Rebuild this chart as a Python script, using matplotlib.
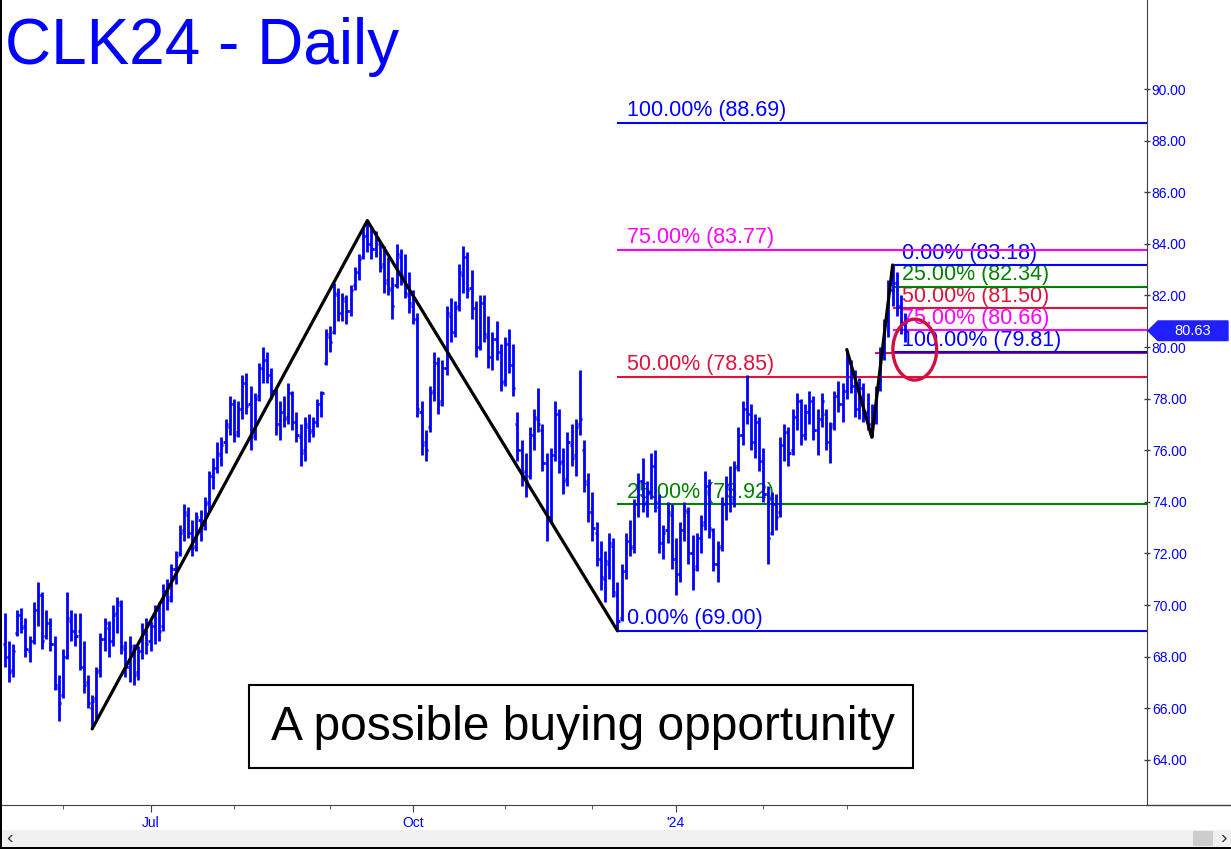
import matplotlib
matplotlib.use('Agg')
import matplotlib.pyplot as plt
import matplotlib.patches as patches
import matplotlib.transforms as transforms
from matplotlib.collections import LineCollection
import numpy as np
import pandas as pd

plt.rcParams['font.family'] = ['Liberation Sans', 'DejaVu Sans']

# trading calendar of the chart
first_day = '2023-05-11'
holidays = ['2023-05-29', '2023-06-19', '2023-07-04', '2023-09-04', '2023-11-23',
            '2023-12-25', '2024-01-01', '2024-01-15', '2024-02-19']

# daily OHLC bars
opens = [68.5, 68.0, 67.5, 68.9, 69.6, 69.2, 68.2, 68.6, 69.8, 70.4,
         68.8, 69.3, 68.5, 66.8, 66.5, 68.0, 69.4, 69.0, 69.0, 67.6,
         67.0, 66.0, 66.4, 67.5, 68.7, 69.1, 68.6, 69.7, 70.0, 68.3,
         67.6, 68.3, 67.4, 68.2, 69.0, 68.6, 69.2, 69.8, 69.2, 70.5,
         70.3, 71.4, 72.0, 72.9, 73.5, 72.8, 72.3, 73.3, 73.1, 74.0,
         75.0, 75.3, 75.8, 76.3, 76.9, 77.8, 76.7, 77.6, 78.6, 77.8,
         76.6, 78.1, 79.2, 79.5, 78.9, 78.2, 77.0, 77.5, 77.3, 78.2,
         77.1, 76.5, 76.0, 76.9, 76.8, 77.1, 77.8, 79.4, 80.4, 80.6,
         82.0, 81.3, 81.8, 81.4, 82.4, 82.9, 83.5, 84.3, 84.0, 83.8,
         84.0, 83.2, 82.6, 82.2, 82.4, 83.5, 82.7, 82.0, 81.6, 81.1,
         77.5, 76.3, 76.9, 78.3, 79.4, 77.9, 79.2, 81.2, 80.6, 81.6,
         82.8, 83.5, 82.3, 81.5, 80.0, 81.7, 80.4, 79.6, 80.3, 79.8,
         78.7, 80.1, 79.3, 77.0, 76.0, 75.2, 75.0, 76.6, 77.2, 76.8,
         75.5, 73.4, 75.8, 77.4, 75.6, 74.9, 76.2, 75.8, 77.0, 76.0,
         74.7, 73.6, 72.8, 71.8, 71.0, 71.6, 72.3, 70.4, 69.5, 71.3,
         72.5, 72.3, 73.9, 74.8, 74.0, 74.4, 75.4, 73.8, 72.4, 72.9,
         73.5, 71.8, 71.2, 72.9, 73.6, 72.0, 71.5, 72.6, 73.2, 74.6,
         72.9, 71.6, 72.3, 73.9, 74.5, 74.1, 75.4, 76.6, 77.6, 77.4,
         76.3, 77.1, 75.6, 74.3, 72.8, 73.9, 73.6, 76.2, 76.7, 76.0,
         77.3, 77.9, 76.6, 77.5, 77.9, 76.8, 77.2, 77.4, 76.3, 77.0,
         78.1, 77.8, 78.3, 79.4, 78.5, 77.6, 78.4, 77.5, 77.0, 77.4,
         78.4, 79.8, 81.0, 82.2, 82.5, 81.6, 80.9]
highs = [69.7, 68.6, 68.5, 69.8, 69.9, 69.5, 68.8, 70.1, 70.9, 70.5,
         69.8, 69.5, 68.8, 67.3, 68.3, 70.5, 69.8, 69.7, 69.7, 68.6,
         67.3, 66.5, 67.6, 68.9, 69.5, 69.4, 70.0, 70.3, 70.2, 68.6,
         68.8, 68.5, 68.4, 69.3, 69.5, 69.4, 70.0, 70.1, 70.8, 71.0,
         71.6, 72.1, 73.1, 73.9, 73.8, 73.3, 73.6, 73.7, 74.2, 75.2,
         75.7, 76.3, 76.5, 77.2, 78.1, 78.0, 77.9, 78.9, 79.0, 78.5,
         78.2, 79.4, 80.0, 79.8, 79.2, 78.4, 77.9, 78.1, 78.6, 78.3,
         77.5, 77.0, 77.3, 77.4, 77.3, 78.0, 78.3, 80.7, 80.8, 82.5,
         82.3, 82.1, 82.0, 82.4, 83.1, 83.6, 84.6, 84.9, 84.7, 84.5,
         84.1, 83.9, 83.5, 82.7, 84.0, 83.8, 83.6, 82.9, 82.2, 81.3,
         77.9, 76.8, 78.5, 79.8, 79.6, 79.5, 81.6, 81.9, 81.8, 83.2,
         83.9, 83.7, 83.0, 81.8, 82.0, 82.0, 81.2, 80.6, 81.0, 80.1,
         80.4, 80.7, 80.1, 77.5, 76.4, 75.9, 76.9, 77.6, 78.4, 77.0,
         75.9, 76.1, 77.9, 77.6, 76.1, 76.7, 77.0, 77.2, 79.1, 76.4,
         75.1, 74.4, 73.2, 72.5, 72.1, 72.8, 72.6, 70.9, 71.6, 72.8,
         73.3, 74.1, 75.1, 75.7, 74.8, 75.9, 76.0, 74.3, 73.1, 74.0,
         73.9, 72.6, 73.2, 74.0, 73.8, 72.7, 72.8, 73.5, 75.2, 74.9,
         73.0, 72.5, 74.2, 75.0, 75.4, 75.6, 76.9, 77.9, 78.9, 77.8,
         77.4, 77.3, 76.1, 74.6, 74.4, 74.3, 76.5, 77.0, 76.9, 77.6,
         78.2, 78.0, 77.8, 78.3, 78.1, 77.6, 78.2, 77.6, 77.1, 78.3,
         78.7, 78.6, 79.9, 79.5, 79.1, 78.8, 78.6, 78.2, 77.8, 78.5,
         80.0, 81.1, 82.6, 83.18, 82.9, 82.0, 81.3]
lows = [67.6, 67.0, 67.2, 68.8, 68.9, 68.0, 67.8, 68.5, 69.2, 68.3,
        68.7, 68.2, 66.7, 65.5, 66.4, 67.9, 68.6, 68.4, 67.5, 66.6,
        66.0, 65.2, 65.6, 67.2, 68.2, 68.0, 68.4, 68.9, 68.1, 67.2,
        67.0, 66.9, 67.1, 67.9, 68.1, 68.2, 68.5, 68.6, 69.0, 69.8,
        70.1, 70.8, 71.9, 72.5, 72.6, 71.9, 72.1, 72.5, 72.9, 73.6,
        74.5, 75.1, 75.4, 75.9, 76.6, 76.3, 76.5, 77.2, 77.4, 76.0,
        76.4, 77.9, 78.6, 78.6, 78.0, 76.6, 76.4, 76.9, 77.0, 76.8,
        76.3, 75.4, 75.6, 76.3, 76.5, 76.9, 77.3, 79.3, 79.8, 80.5,
        81.0, 81.0, 80.9, 81.2, 82.2, 82.6, 83.4, 83.7, 83.4, 83.5,
        82.9, 82.1, 82.0, 81.1, 82.3, 82.4, 81.9, 81.3, 80.9, 77.3,
        75.8, 75.6, 76.7, 77.9, 77.4, 77.7, 78.9, 80.2, 80.4, 81.4,
        82.1, 81.9, 81.1, 79.6, 79.9, 80.2, 79.2, 79.1, 79.5, 78.3,
        78.5, 79.0, 78.1, 75.6, 74.6, 74.2, 74.9, 76.0, 76.7, 75.2,
        72.5, 73.2, 75.6, 75.1, 74.3, 74.6, 75.4, 75.0, 76.6, 74.4,
        73.2, 72.5, 71.5, 70.6, 70.1, 71.0, 70.3, 69.0, 69.4, 71.0,
        71.9, 72.0, 73.4, 73.6, 73.4, 74.1, 73.6, 72.0, 71.8, 72.4,
        71.4, 70.4, 70.9, 72.5, 71.6, 70.6, 71.3, 72.0, 72.9, 72.6,
        71.3, 70.9, 72.1, 73.3, 73.6, 73.8, 75.2, 76.2, 77.0, 76.0,
        75.7, 75.2, 74.0, 71.6, 72.7, 72.9, 73.4, 75.6, 75.4, 75.8,
        76.8, 76.2, 76.4, 77.0, 76.4, 75.8, 76.9, 76.0, 75.5, 76.8,
        77.5, 77.1, 78.0, 78.2, 77.3, 77.2, 77.1, 76.8, 76.5, 77.0,
        78.3, 79.5, 80.4, 81.6, 81.2, 80.5, 80.2]
closes = [68.0, 67.4, 68.2, 69.6, 69.1, 68.3, 68.6, 69.8, 70.4, 68.6,
          69.3, 68.5, 66.9, 66.2, 68.0, 69.5, 69.0, 68.8, 67.6, 66.9,
          66.2, 66.3, 67.4, 68.7, 69.3, 68.6, 69.6, 70.1, 68.4, 67.6,
          68.4, 67.3, 68.2, 69.0, 68.5, 69.2, 69.8, 69.0, 70.5, 70.2,
          71.4, 71.9, 72.8, 73.6, 72.8, 72.2, 73.4, 73.0, 73.9, 75.0,
          75.3, 75.9, 76.2, 77.0, 77.8, 76.6, 77.6, 78.6, 77.7, 76.5,
          78.0, 79.2, 79.5, 78.9, 78.3, 77.0, 77.5, 77.2, 78.2, 77.1,
          76.6, 75.9, 77.0, 76.7, 77.1, 77.8, 78.2, 80.5, 80.2, 82.1,
          81.3, 81.9, 81.4, 82.2, 82.9, 83.4, 84.3, 84.0, 83.8, 84.2,
          83.1, 82.5, 82.3, 81.6, 83.6, 82.8, 82.1, 81.7, 81.1, 77.6,
          76.2, 76.0, 78.2, 79.4, 77.8, 79.2, 81.3, 80.6, 81.5, 82.9,
          83.5, 82.2, 81.5, 80.0, 81.7, 80.5, 79.6, 80.3, 79.8, 78.6,
          80.1, 79.3, 78.4, 76.0, 75.1, 74.8, 76.6, 77.3, 77.0, 75.5,
          73.4, 75.8, 77.4, 75.5, 74.8, 76.3, 75.7, 76.9, 77.2, 74.8,
          73.6, 73.0, 71.8, 71.1, 71.7, 72.4, 70.5, 69.4, 71.3, 72.5,
          72.2, 73.9, 74.8, 73.9, 74.4, 75.4, 74.0, 72.4, 72.8, 73.6,
          71.8, 71.2, 72.9, 73.7, 72.0, 71.4, 72.6, 73.1, 74.6, 73.0,
          71.6, 72.2, 73.9, 74.6, 74.0, 75.3, 76.6, 77.6, 77.4, 76.3,
          77.1, 75.6, 74.3, 72.6, 73.9, 73.4, 76.2, 76.7, 75.9, 77.3,
          77.9, 76.6, 77.5, 77.9, 76.8, 77.2, 77.9, 76.3, 76.9, 78.1,
          77.8, 78.3, 79.5, 78.5, 77.6, 78.4, 77.5, 77.0, 77.4, 78.3,
          79.7, 80.9, 82.2, 82.5, 81.6, 80.9, 80.63]

# Fibonacci projections
fib_pcts = ['0.00%', '25.00%', '50.00%', '75.00%', '100.00%']
big_levels = [69.00, 73.92, 78.85, 83.77, 88.69]
small_levels = [83.18, 82.34, 81.50, 80.66, 79.81]
fib_colors = ['#0000ff', '#008000', '#dc143c', '#ff00ff', '#0000ff']
old_level = 79.75

# swing pivots (bar index) for the zigzag lines
big_swing = [21, 87, 147]
small_swing = [202, 208, 213]

y_ticks = np.arange(64, 91, 2)

W, H = 1231, 849
def fx(px):
    return px / W
def fy(py):
    return 1 - py / H

fig = plt.figure(figsize=(W / 100, H / 100), dpi=100)
ax = fig.add_axes([0, fy(805), fx(1147), 805 / H])

n = len(closes)
dates = pd.bdate_range(first_day, periods=n, freq='C', holidays=holidays)
idx = np.arange(n)

# OHLC bars
segs = []
for i in idx:
    segs.append([(i, lows[i]), (i, highs[i])])
    segs.append([(i - 0.5, opens[i]), (i, opens[i])])
    segs.append([(i, closes[i]), (i + 0.5, closes[i])])
ax.add_collection(LineCollection(segs, colors='#0000ff', linewidths=2.0, zorder=3))

x_right = 274.0
ax.set_xlim(-1.1, x_right)
ax.set_ylim(62.25, 93.45)

# fib lines and labels
start_big = big_swing[-1]
start_small = small_swing[-1]
ax.hlines(old_level, 208.7, x_right, colors='#dc143c', lw=1.5, zorder=2)
for pct, lev, col in zip(fib_pcts, big_levels, fib_colors):
    ax.hlines(lev, start_big, x_right, colors=col, lw=1.5, zorder=2)
    ax.annotate(f'{pct} ({lev:.2f})', xy=(start_big, lev), xytext=(6.5, 1),
                textcoords='offset points', ha='left', va='bottom',
                fontsize=15.5, color=col, zorder=1)
for pct, lev, col in zip(fib_pcts, small_levels, fib_colors):
    ax.hlines(lev, start_small, x_right, colors=col, lw=1.5, zorder=2)
    ax.annotate(f'{pct} ({lev:.2f})', xy=(start_small, lev), xytext=(6.5, 1),
                textcoords='offset points', ha='left', va='bottom',
                fontsize=15.5, color=col, zorder=1)

# zigzags
bx = big_swing
by = [lows[bx[0]], highs[bx[1]], lows[bx[2]]]
ax.plot(bx, by, color='black', lw=2.3, zorder=4, solid_capstyle='round')
sx = small_swing
sy = [highs[sx[0]], lows[sx[1]], highs[sx[2]]]
ax.plot(sx, sy, color='black', lw=2.3, zorder=4, solid_capstyle='round')

# circle around the buy zone
ax.add_patch(patches.Ellipse((n + 1.3, 79.9), 10.5, 2.36, fill=False,
                             ec='#d01040', lw=2.4, zorder=6))

# axes styling
for s in ['left', 'top']:
    ax.spines[s].set_visible(False)
ax.spines['right'].set_color('#404040')
ax.spines['bottom'].set_color('#404040')
ax.yaxis.tick_right()
ax.set_yticks(y_ticks)
ax.set_yticklabels([f'{v:.2f}' for v in y_ticks])
ax.tick_params(axis='y', direction='inout', length=5, width=1, color='#404040',
               labelcolor='#0000ff', labelsize=10, pad=1)

month_pos = [i for i in range(1, n) if dates[i].month != dates[i - 1].month]
major = [i for i in month_pos if dates[i].month in (1, 4, 7, 10)]
minor = [i for i in month_pos if i not in major]
labels = ["'" + dates[i].strftime('%y') if dates[i].month == 1 else dates[i].strftime('%b')
          for i in major]
ax.set_xticks(major)
ax.set_xticklabels(labels)
ax.set_xticks(minor, minor=True)
ax.tick_params(axis='x', which='major', direction='out', length=5, color='#404040',
               labelcolor='#0000ff', labelsize=10, pad=3)
ax.tick_params(axis='x', which='minor', direction='out', length=3, color='#404040')

# last price marker
blend = transforms.blended_transform_factory(fig.transFigure, ax.transData)
last = closes[-1]
hh = 0.38
marker = patches.Polygon([(fx(1148), last), (fx(1158), last + hh), (fx(1228), last + hh),
                          (fx(1228), last - hh), (fx(1158), last - hh)],
                         closed=True, transform=blend, fc='#1f1fff', ec='#1f1fff',
                         clip_on=False, zorder=10)
ax.add_patch(marker)
ax.text(fx(1193), last, f'{last:.2f}', transform=blend, ha='center', va='center',
        color='white', fontsize=10.5, zorder=11, clip_on=False)

# title and comment box
fig.text(fx(5), fy(64), 'CLK24 - Daily', fontsize=46, color='#0000ff',
         ha='left', va='baseline')
fig.add_artist(patches.Rectangle((fx(249), fy(768)), fx(913) - fx(249), fy(685) - fy(768),
                                 transform=fig.transFigure, fc='white', ec='black', lw=1.5))
fig.text(fx(583), fy(740), 'A possible buying opportunity', fontsize=34.5, color='black',
         ha='center', va='baseline')

# bottom frame / scrollbar
fig.add_artist(plt.Line2D([fx(1147), 1], [fy(805), fy(805)], transform=fig.transFigure,
                          color='#404040', lw=1))
fig.add_artist(patches.Rectangle((fx(2), fy(847)), 1, fy(830) - fy(847),
                                 transform=fig.transFigure, fc='#f0f0f0', ec='none'))
fig.add_artist(patches.Rectangle((fx(1193), fy(846)), fx(20), fy(831) - fy(846),
                                 transform=fig.transFigure, fc='#cdcdcd', ec='none'))
fig.text(fx(9), fy(839), '‹', fontsize=14, color='#333333', ha='center', va='center')
fig.text(fx(1223), fy(839), '›', fontsize=14, color='#333333', ha='center', va='center')
fig.add_artist(patches.Rectangle((0, 0), fx(2), 1, transform=fig.transFigure,
                                 fc='black', ec='none'))
fig.add_artist(patches.Rectangle((0, 0), 1, 2 / H, transform=fig.transFigure,
                                 fc='black', ec='none'))

fig.savefig('out.png', dpi=100)
